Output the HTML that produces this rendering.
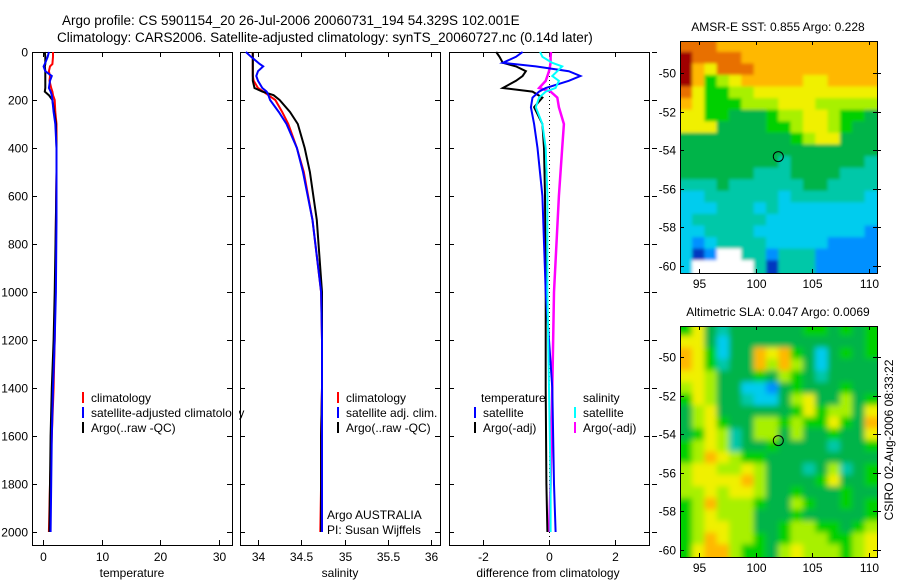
<!DOCTYPE html>
<html><head><meta charset="utf-8">
<style>
html,body{margin:0;padding:0;background:#fff;}
svg{display:block;font-family:"Liberation Sans",sans-serif;}
text{fill:#000;}
</style></head>
<body>
<svg id="fig" width="900" height="580" viewBox="0 0 900 580">
<defs>
<filter id="blurSla" x="-0.1" y="-0.1" width="1.2" height="1.2"><feGaussianBlur stdDeviation="3"/></filter>
<filter id="blurSst" x="-0.1" y="-0.1" width="1.2" height="1.2"><feGaussianBlur stdDeviation="1.5"/></filter>
<clipPath id="clip-sst"><rect x="681" y="42" width="196" height="231"/></clipPath>
<clipPath id="clip-sla"><rect x="681" y="327" width="196" height="230"/></clipPath>
</defs>
<text x="62" y="25" font-size="13.5">Argo profile: CS 5901154_20 26-Jul-2006 20060731_194 54.329S 102.001E</text>
<text x="57" y="42" font-size="13.5">Climatology: CARS2006. Satellite-adjusted climatology: synTS_20060727.nc (0.14d later)</text>
<g id="g"></g>
</svg>
<script>
// ---------- profile data ----------
const depths = [0,20,50,60,80,100,120,150,165,180,200,250,300,400,500,700,1000,1200,1400,1600,1800,2000];
const tempClim = [1.7,1.7,1.6,1.2,1.0,1.2,1.1,1.4,1.6,1.7,2.0,2.1,2.3,2.3,2.3,2.2,2.1,2.0,1.8,1.5,1.2,1.0];
const tempArgo = [0.3,0.4,0.4,0.3,0.4,0.4,0.4,0.4,0.3,1.0,1.6,1.9,2.2,2.3,2.3,2.2,2.0,1.8,1.5,1.3,1.2,1.1];
const tempSatClim = [1.0,0.8,0.3,0.1,0.4,1.5,1.2,1.0,1.3,1.5,1.6,1.8,2.1,2.3,2.3,2.3,2.2,2.0,1.7,1.5,1.4,1.3];
const salClim = [33.94,33.94,33.94,33.94,33.94,33.94,33.95,34.0,34.06,34.12,34.2,34.28,34.35,34.45,34.53,34.63,34.73,34.74,34.74,34.73,34.73,34.72];
const salArgo = [33.94,33.94,33.94,33.94,33.94,33.94,33.94,33.96,34.05,34.18,34.25,34.37,34.46,34.54,34.6,34.68,34.74,34.74,34.74,34.73,34.73,34.73];
const salSatClim = [33.86,33.92,34.02,34.06,34.0,33.98,34.0,34.05,34.1,34.12,34.14,34.24,34.33,34.45,34.52,34.63,34.73,34.74,34.74,34.74,34.74,34.74];
const diffDepths = [0,20,45,60,80,100,120,150,165,190,230,300,400,600,1000,1400,1800,2000];
const diffTempSat = [-0.8,-1.0,-1.4,-0.4,0.6,0.95,0.6,-0.1,-0.3,-0.5,-0.55,-0.45,-0.35,-0.2,-0.1,0.1,0.15,0.2];
const diffTempArgo = [-1.6,-1.5,-1.4,-1.0,-0.7,-0.8,-1.0,-1.4,-0.5,-0.2,-0.45,-0.2,-0.15,-0.12,-0.1,-0.1,-0.08,-0.05];
const diffSalSat = [-0.27,-0.2,0.1,0.4,0.25,0.1,0.3,0.2,-0.1,-0.3,-0.4,-0.2,-0.1,-0.05,-0.05,0.0,0.05,0.05];
const diffSalArgo = [0.06,0.05,0.05,0.03,0.0,-0.05,-0.1,-0.3,0.05,0.25,0.3,0.45,0.4,0.3,0.15,0.1,0.05,0.0];
const depthTicks = [0,200,400,600,800,1000,1200,1400,1600,1800,2000];
const tempTicks = [0,10,20,30];
const salTicks = ["34","34.5","35","35.5","36"];
const diffTicks = [-2,0,2];
// ---------- map data (digit = colour level, W = no data) ----------
const sstGrid = [
"9998888888888888","R999988888888888","R879998888888888","R856788888778888",
"9755667777777777","8755566677766666","7755444566776554","7774444556776544",
"4444444445677444","4444444444444444","4444444434444443","4444443334444333",
"3334333333443333","2233333323333332","2223332322222222","2333333222222222",
"2233332222222221","2123333222221111","201WW33133311111","2WWWWW3033311111"];
const slaGrid = [
"5743444444554545","7742444444444445","8752448785424545","8753448686424444",
"7764445465434444","6764422145444544","5764432246744645","4674444445756647",
"4675446656557548","4576346646445447","5676344544443445","5687655444444444",
"6776676444346345","6777786444457445","6676776445444544","5686665446544545",
"5676664445444445","5677664456655456","5687665456665567","5788655467666567"];
const mapLonTicks = [95,100,105,110];
const mapLatTicks = [-50,-52,-54,-56,-58,-60];
const argoLon = 102.0, argoLat = -54.33;

const NS="http://www.w3.org/2000/svg";
const G=document.getElementById('g');
function mk(tag,attrs,parent){const e=document.createElementNS(NS,tag);for(const k in attrs)e.setAttribute(k,attrs[k]);(parent||G).appendChild(e);return e;}
function txt(x,y,s,size,anchor,parent){const t=mk('text',{x:x,y:y,'font-size':size||12,'text-anchor':anchor||'start'},parent);t.textContent=s;return t;}

const yTop=52, yBot=545;
const yD=d=>52+d*0.24;

function panel(name,x0,x1,xScale,ticks,label,labelX,yLabels){
  const g=mk('g',{});
  
  
  const r=mk('rect',{x:x0+0.5,y:yTop+0.5,width:x1-x0,height:yBot-yTop,fill:'none',stroke:'#000','stroke-width':1},g);
  
  
  depthTicks.forEach(d=>{
    const y=Math.round(yD(d))+0.5;
    mk('line',{x1:x0,x2:x0+5,y1:y,y2:y,stroke:'#000'},g);
    mk('line',{x1:x1-5,x2:x1,y1:y,y2:y,stroke:'#000'},g);
    if(yLabels){const t=txt(x0-4,y+4,String(d),12,'end',g);
      
      }
  });
  ticks.forEach(v=>{
    const x=Math.round(xScale(+v))+0.5;
    mk('line',{x1:x,x2:x,y1:yTop,y2:yTop+5,stroke:'#000'},g);
    mk('line',{x1:x,x2:x,y1:yBot-5,y2:yBot,stroke:'#000'},g);
    const t=txt(x,561,String(v),12,'middle',g);
    
    
  });
  const l=txt(labelX,577,label,12,'middle',g);
  
  
  return g;
}
function series(g,xs,ds,xScale,color,name,w){
  const pts=xs.map((v,i)=>xScale(v).toFixed(1)+','+yD(ds[i]).toFixed(1)).join(' ');
  const p=mk('polyline',{points:pts,fill:'none',stroke:color,'stroke-width':w||2,'stroke-linejoin':'miter'},g);
  
  
}
function legend(g,x,y,color,label,name){
  mk('rect',{x:x,y:y-10,width:2,height:11,fill:color},g);
  const t=txt(x+9,y,label,12,'start',g);
  
  
}

const xT=v=>43+v*5.87;
const gT=panel('temperature',32,232,xT,tempTicks,'temperature',132,true);
series(gT,tempClim,depths,xT,'#ff0000','temp-climatology-line');
series(gT,tempArgo,depths,xT,'#000000','temp-argo-line');
series(gT,tempSatClim,depths,xT,'#0000ff','temp-satellite-clim-line');
legend(gT,82,402,'#ff0000','climatology','legend-climatology');
legend(gT,82,417,'#0000ff','satellite-adjusted climatology','legend-satellite-adjusted');
legend(gT,82,432,'#000000','Argo(..raw -QC)','legend-argo');
mk('rect',{x:233,y:395,width:6,height:30,fill:'#fff'},gT);

const xS=v=>258+(v-34)*86.5;
const gS=panel('salinity',240,440,xS,salTicks,'salinity',340,false);
series(gS,salClim,depths,xS,'#ff0000','sal-climatology-line');
series(gS,salArgo,depths,xS,'#000000','sal-argo-line');
series(gS,salSatClim,depths,xS,'#0000ff','sal-satellite-clim-line');
legend(gS,337,402,'#ff0000','climatology','legend-sal-climatology');
legend(gS,337,417,'#0000ff','satellite adj. clim.','legend-sal-satellite');
legend(gS,337,432,'#000000','Argo(..raw -QC)','legend-sal-argo');
const a1=txt(327,519,'Argo AUSTRALIA',12,'start',gS);


const a2=txt(327,534,'PI: Susan Wijffels',12,'start',gS);



const xDf=v=>549+v*33;
const gD=panel('difference',449,649,xDf,diffTicks,'difference from climatology',548,false);
const zl=mk('line',{x1:549.5,x2:549.5,y1:yTop,y2:yBot,stroke:'#000','stroke-dasharray':'1,3'},gD);


series(gD,diffSalArgo,diffDepths,xDf,'#ff00ff','diff-sal-argo-line',2.5);
series(gD,diffTempArgo,diffDepths,xDf,'#000000','diff-temp-argo-line');
series(gD,diffTempSat,diffDepths,xDf,'#0000ff','diff-temp-satellite-line');
series(gD,diffSalSat,diffDepths,xDf,'#00ffff','diff-sal-satellite-line');
const lt=txt(481,402,'temperature',12,'start',gD);


const ls=txt(583,402,'salinity',12,'start',gD);


legend(gD,474,417,'#0000ff','satellite','legend-temp-satellite');
legend(gD,474,432,'#000000','Argo(-adj)','legend-temp-argo');
legend(gD,574,417,'#00ffff','satellite','legend-sal-satellite-diff');
legend(gD,574,432,'#ff00ff','Argo(-adj)','legend-sal-argo-diff');
depthTicks.forEach(d=>{const y=Math.round(yD(d))+0.5;mk('line',{x1:652,x2:657,y1:y,y2:y,stroke:'#000'},gD);});

// ---------- maps ----------
const palette={'0':'#0038c0','1':'#0090ff','2':'#00ccee','3':'#00c8a8','4':'#00b448','5':'#00d000','6':'#a8f000','7':'#f0f000','8':'#ffb800','9':'#e87000','R':'#a00000','W':'#ffffff'};
function map(name,grid,top,bottom,latRef,title,titleY,blurId){
  const g=mk('g',{});
  
  
  const left=680,right=877;
  const lonX=lon=>699+(lon-95)*11.33;
  const latY=lat=>latRef+(-50-lat)*19.3;
  const lon0=93.3,lon1=110.7,lat0=-48.3,lat1=-60.3;
  const nr=grid.length,nc=grid[0].length;
  const dlon=(lon1-lon0)/nc,dlat=(lat0-lat1)/nr;
  const clipG=mk('g',{'clip-path':'url(#clip-'+name+')'},g);
  const cells=mk('g',{filter:'url(#'+blurId+')'},clipG);
  for(let r=0;r<nr;r++)for(let c=0;c<nc;c++){
    let xa=lonX(lon0+c*dlon),xb=lonX(lon0+(c+1)*dlon);
    let ya=latY(lat0-r*dlat),yb=latY(lat0-(r+1)*dlat);
    if(c===0)xa-=12; if(c===nc-1)xb+=12;
    if(r===0)ya-=12; if(r===nr-1)yb+=12;
    const cell=mk('rect',{x:xa.toFixed(1),y:ya.toFixed(1),width:(xb-xa+0.5).toFixed(1),height:(yb-ya+0.5).toFixed(1),fill:palette[grid[r][c]]},cells);
    
    
  }
  const fr=mk('rect',{x:left+0.5,y:top+0.5,width:right-left,height:bottom-top,fill:'none',stroke:'#000'},g);
  
  
  mapLonTicks.forEach(lon=>{const x=Math.round(lonX(lon))+0.5;
    mk('line',{x1:x,x2:x,y1:top,y2:top+4,stroke:'#000'},g);
    mk('line',{x1:x,x2:x,y1:bottom-4,y2:bottom,stroke:'#000'},g);
    const t=txt(x,bottom+15,String(lon),12,'middle',g);
    
    });
  mapLatTicks.forEach(lat=>{const y=Math.round(latY(lat))+0.5;
    mk('line',{x1:left,x2:left+4,y1:y,y2:y,stroke:'#000'},g);
    mk('line',{x1:right-4,x2:right+4,y1:y,y2:y,stroke:'#000'},g);
    const t=txt(left-4,y+4,String(lat),12,'end',g);
    
    });
  const c=mk('circle',{cx:lonX(argoLon),cy:latY(argoLat),r:5,fill:'none',stroke:'#000','stroke-width':1},g);
  
  
  const t=txt(778,titleY,title,12,'middle',g);
  
  
}
map('sst',sstGrid,41,273,73,'AMSR-E SST: 0.855 Argo: 0.228',31,'blurSst');
map('sla',slaGrid,326,557,357,'Altimetric SLA: 0.047 Argo: 0.0069',316,'blurSla');
const cs=txt(0,0,'CSIRO 02-Aug-2006 08:33:22',12,'middle');
cs.setAttribute('transform','translate(893,440) rotate(-90)');


</script>
</body></html>
